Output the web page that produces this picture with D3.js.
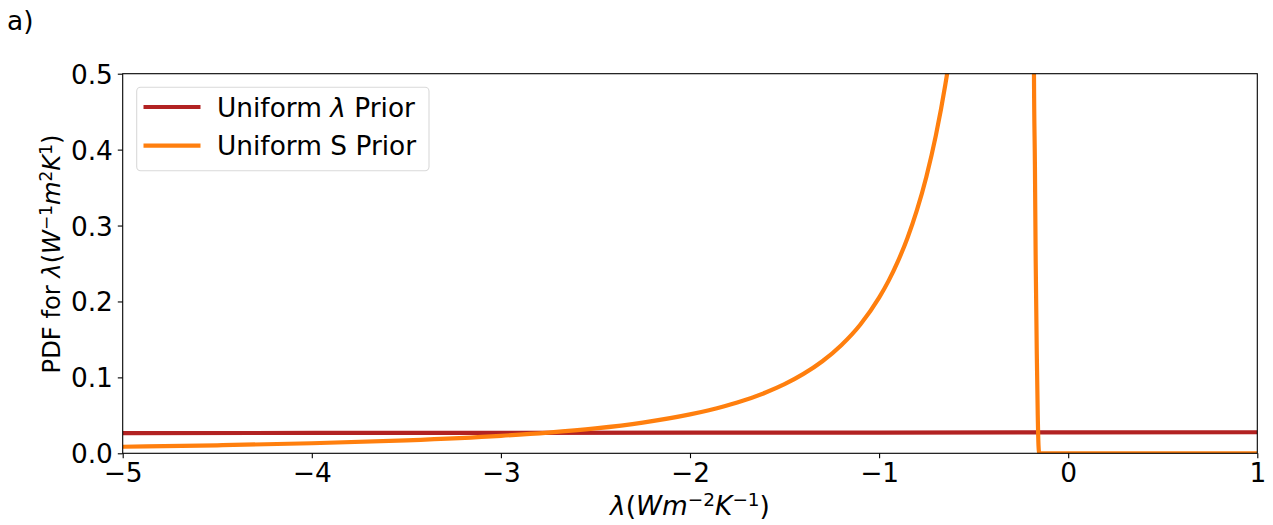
<!DOCTYPE html>
<html>
<head>
<meta charset="utf-8">
<script src="https://cdn.jsdelivr.net/npm/d3@7"></script>
<style>
  html, body { margin: 0; padding: 0; background: #ffffff; }
  svg { display: block; }
  text { font-family: "DejaVu Sans", sans-serif; fill: #000; }
</style>
</head>
<body>
<svg id="chart" width="1273" height="525"></svg>
<script>
// Posterior PDF for the feedback parameter lambda under two priors.

// Uniform-lambda prior: nearly flat density across the range.
const uniformLambdaX = [-5, -3, -1, 1];
const uniformLambdaPdf = [0.0266, 0.0270, 0.0273, 0.0277];

// Uniform-S prior: rises steeply toward lambda -> 0, then cut off near -0.15.
const uniformSX = [
  -5, -4.5, -4, -3.5, -3, -2.75, -2.5, -2.25, -2, -1.9, -1.75, -1.6, -1.5,
  -1.4, -1.3, -1.2, -1.1, -1, -0.95, -0.9, -0.85, -0.8, -0.75, -0.7,
  -0.65, -0.6, -0.55, -0.5, -0.45, -0.4, -0.35, -0.3, -0.25, -0.2, -0.19,
  -0.181, -0.176, -0.172, -0.166, -0.161, -0.157, -0.153, 0, 0.5, 1
];
const uniformSPdf = [
  0.00864, 0.01056, 0.01323, 0.01709, 0.02302, 0.02725, 0.0328, 0.0405, 0.05125, 0.0568, 0.0669, 0.0801, 0.0911,
  0.1046, 0.1213, 0.1424, 0.1694, 0.2050, 0.2271, 0.2531, 0.2837, 0.3203, 0.3644, 0.4184,
  0.4852, 0.5694, 0.6777, 0.8200, 1.012, 1.281, 1.673, 2.278, 3.280, 5.125, 5.680,
  0.5000, 0.3800, 0.2550, 0.1300, 0.0500, 0.0100, 0.0000, 0.0000, 0.0000, 0.0000
];

const xTicks = [-5, -4, -3, -2, -1, 0, 1];
const yTicks = [0.0, 0.1, 0.2, 0.3, 0.4, 0.5];

const seriesNames = ["Uniform λ Prior", "Uniform S Prior"];
const seriesColors = ["#b22222", "#ff7f0e"];

const svg = d3.select("#chart");
const margin = { left: 122.7, right: 1273 - 1257.3, top: 73.7, bottom: 525 - 453.3 };
const W = 1273, H = 525;
const plotW = W - margin.left - margin.right;
const plotH = H - margin.top - margin.bottom;

const x = d3.scaleLinear().domain([-5, 1]).range([margin.left, margin.left + plotW]);
const y = d3.scaleLinear().domain([0, 0.5]).range([margin.top + plotH, margin.top]);

svg.append("defs").append("clipPath").attr("id", "plot-clip")
  .append("rect")
  .attr("x", margin.left).attr("y", margin.top)
  .attr("width", plotW).attr("height", plotH);

const line = d3.line().x(d => x(d[0])).y(d => y(d[1])).curve(d3.curveMonotoneX);

const plot = svg.append("g").attr("clip-path", "url(#plot-clip)");

const series = [
  d3.zip(uniformLambdaX, uniformLambdaPdf),
  d3.zip(uniformSX, uniformSPdf)
];

series.forEach((pts, i) => {
  plot.append("path")
    .datum(pts)
    .attr("d", line)
    .attr("fill", "none")
    .attr("stroke", seriesColors[i])
    .attr("stroke-width", 4.2)
    .attr("stroke-linejoin", "round")
    .attr("stroke-linecap", "butt");
});

// Axes
const fontSize = 26.4;
const xAxis = d3.axisBottom(x).tickValues(xTicks)
  .tickFormat(d => d3.format("d")(d).replace("-", "\u2212"))
  .tickSizeInner(4.9).tickSizeOuter(0).tickPadding(4.9);
const yAxis = d3.axisLeft(y).tickValues(yTicks)
  .tickFormat(d3.format(".1f"))
  .tickSizeInner(4.9).tickSizeOuter(0).tickPadding(4.9);

const gx = svg.append("g").attr("transform", `translate(0,${margin.top + plotH})`).call(xAxis);
const gy = svg.append("g").attr("transform", `translate(${margin.left},0)`).call(yAxis);
[gx, gy].forEach(g => {
  g.select(".domain").remove();
  g.selectAll(".tick line").attr("stroke", "#000").attr("stroke-width", 1.1);
  g.selectAll(".tick text")
    .attr("font-family", "DejaVu Sans, sans-serif")
    .attr("font-size", fontSize)
    .attr("fill", "#000");
});
gy.selectAll(".tick text").attr("dy", "0.36em");
gx.selectAll(".tick text").attr("dy", "0.71em");

// Frame
svg.append("rect")
  .attr("x", margin.left).attr("y", margin.top)
  .attr("width", plotW).attr("height", plotH)
  .attr("fill", "none").attr("stroke", "#000").attr("stroke-width", 1.1);

// Math-style label helper: pieces of [text, italic, superscript]
function mathLabel(textSel, pieces, size) {
  pieces.forEach(([t, it, sup]) => {
    const ts = textSel.append("tspan").text(t)
      .attr("font-style", it ? "italic" : "normal");
    if (sup) ts.attr("font-size", size * 0.7).attr("baseline-shift", "0.48em");
    else ts.attr("font-size", size);
  });
}

// X label
const xl = svg.append("text")
  .attr("x", margin.left + plotW / 2).attr("y", 515)
  .attr("text-anchor", "middle");
mathLabel(xl, [["λ", true], ["(", false], ["Wm", true], ["\u22122", false, true],
  ["K", true], ["\u22121", false, true], [")", false]], fontSize);

// Y label
const yl = svg.append("text")
  .attr("transform", "translate(60,254) rotate(-90)")
  .attr("text-anchor", "middle");
mathLabel(yl, [["PDF for ", false], ["λ", true], ["(", false], ["W", true], ["\u22121", false, true],
  ["m", true], ["2", false, true], ["K", true], ["1", false, true], [")", false]], 24.2);

// Panel tag
svg.append("text").attr("x", 7).attr("y", 30).attr("font-size", fontSize).text("a)");

// Legend
const lg = svg.append("g");
lg.append("rect")
  .attr("x", 136.7).attr("y", 87.3).attr("width", 292.3).attr("height", 83.4)
  .attr("rx", 4).attr("ry", 4)
  .attr("fill", "#ffffff").attr("fill-opacity", 0.8)
  .attr("stroke", "#d9d9d9").attr("stroke-width", 1.1);
seriesNames.forEach((name, i) => {
  const ly = 107 + i * 38.7;
  lg.append("line")
    .attr("x1", 143.5).attr("x2", 200.5).attr("y1", ly).attr("y2", ly)
    .attr("stroke", seriesColors[i]).attr("stroke-width", 4.2);
  const t = lg.append("text").attr("x", 217).attr("y", ly + 9.7);
  if (i === 0) mathLabel(t, [["Uniform ", false], ["λ", true], [" Prior", false]], fontSize);
  else mathLabel(t, [["Uniform S Prior", false]], fontSize);
});
</script>
</body>
</html>
